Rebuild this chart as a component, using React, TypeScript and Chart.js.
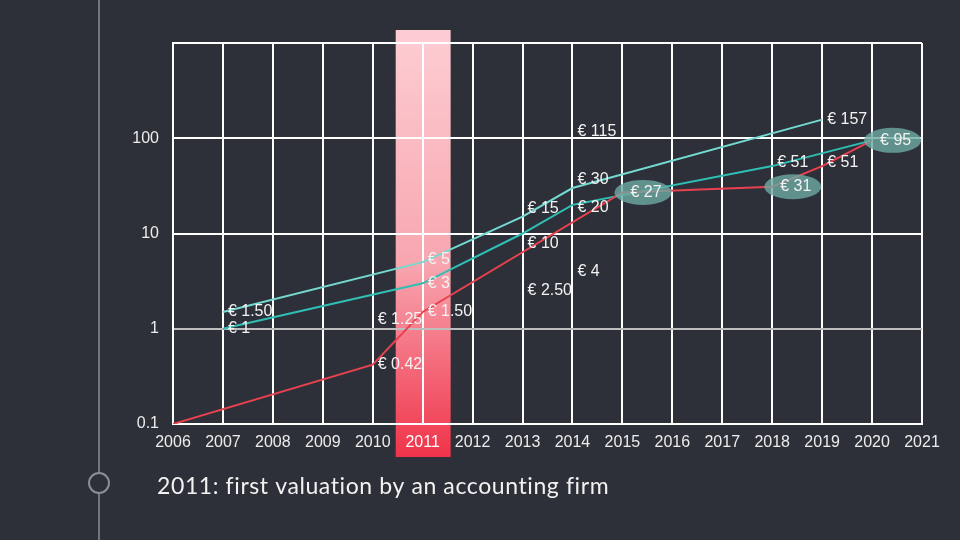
import React, { useEffect, useRef } from "react";
import { Chart, registerables } from "chart.js";

Chart.register(...registerables);

// ---- data ----
const redYears = [2006, 2010, 2011, 2015, 2018, 2019, 2020];
const redValues = [0.1, 0.42, 1.5, 27, 31, 51, 95];
const redLabels = ["", "€ 0.42", "€ 1.50", "€ 27", "€ 31", "€ 51", "€ 95"];
const redCircledYears = [2015, 2018, 2020];

const upperYears = [2007, 2011, 2013, 2014, 2019];
const upperValues = [1.5, 5, 15, 30, 157];
const upperLabels = ["€ 1.50", "€ 5", "€ 15", "€ 30", "€ 157"];

const middleYears = [2007, 2011, 2013, 2014, 2018, 2020];
const middleValues = [1, 3, 10, 20, 51, 95];
const middleLabels = ["€ 1", "€ 3", "€ 10", "€ 20", "€ 51", ""];

const noteYears = [2010, 2013, 2014, 2014];
const noteValues = [1.25, 2.5, 4, 118];
const noteLabels = ["€ 1.25", "€ 2.50", "€ 4", "€ 115"];

const yearMin = 2006;
const yearMax = 2021;
const yTickValues = [0.1, 1, 10, 100, 1000];
const highlightYear = 2011;
const caption = "2011: first valuation by an accounting firm";

// ---- style ----
const BG = "#2d3038";
const RED = "#e8414f";
const LIGHT_TEAL = "#74d9d0";
const TEAL = "#2fbfb5";
const TEXT = "#f2f2f2";
const GREY = "#8b8e94";
const LABEL_FONT = "16px 'Liberation Sans', Arial, sans-serif";
// vertical nudges for a few labels (dataset key : point index)
const labelNudge: Record<string, number> = {
  "upper:1": -3,
  "upper:2": -8,
  "upper:3": -8,
  "middle:2": 10,
  "middle:3": 3,
  "middle:4": -4,
  "red:5": -4,
};

const toPoints = (xs: number[], ys: number[]) => xs.map((x, i) => ({ x, y: ys[i] }));

const decorPlugin = {
  id: "decor",
  beforeDraw(chart: any) {
    const { ctx, width, height, chartArea, scales } = chart;
    ctx.save();
    ctx.fillStyle = BG;
    ctx.fillRect(0, 0, width, height);
    // timeline rule
    ctx.strokeStyle = GREY;
    ctx.lineWidth = 1.5;
    ctx.beginPath();
    ctx.moveTo(99, 0);
    ctx.lineTo(99, height);
    ctx.stroke();
    // highlight band
    const x0 = scales.x.getPixelForValue(highlightYear - 0.54);
    const x1 = scales.x.getPixelForValue(highlightYear + 0.56);
    const top = chartArea.top - 13;
    const bottom = chartArea.bottom + 33;
    const g = ctx.createLinearGradient(0, top, 0, bottom);
    g.addColorStop(0, "#fdcdd3");
    g.addColorStop(0.55, "#f8a6b0");
    g.addColorStop(1, "#f0334a");
    ctx.fillStyle = g;
    ctx.fillRect(x0, top, x1 - x0, bottom - top);
    ctx.restore();
  },
  afterDraw(chart: any) {
    const { ctx } = chart;
    ctx.save();
    // timeline node
    ctx.beginPath();
    ctx.arc(99, 483, 10, 0, Math.PI * 2);
    ctx.fillStyle = BG;
    ctx.fill();
    ctx.strokeStyle = GREY;
    ctx.lineWidth = 2;
    ctx.stroke();
    // caption
    ctx.fillStyle = TEXT;
    ctx.font = "23px Lato, 'Noto Sans', sans-serif";
    try {
      (ctx as any).letterSpacing = "0.6px";
    } catch (e) {}
    ctx.textAlign = "left";
    ctx.textBaseline = "alphabetic";
    ctx.fillText(caption, 157, 494);
    ctx.restore();
  },
};

const labelPlugin = {
  id: "pointLabels",
  afterDatasetsDraw(chart: any) {
    const { ctx } = chart;
    ctx.save();
    ctx.font = LABEL_FONT;
    ctx.textBaseline = "middle";
    ctx.textAlign = "left";
    chart.data.datasets.forEach((ds: any, di: number) => {
      const meta = chart.getDatasetMeta(di);
      const labels: string[] = ds.pointLabels || [];
      meta.data.forEach((el: any, i: number) => {
        const text = labels[i];
        if (!text) return;
        const raw = ds.data[i];
        const circled = (ds.circledYears || []).includes(raw.x);
        const dy = labelNudge[`${ds.key}:${i}`] || 0;
        const tx = el.x + (circled ? 8 : 5);
        const ty = el.y + dy;
        if (circled) {
          const w = ctx.measureText(text).width;
          ctx.beginPath();
          ctx.ellipse(tx + w / 2 - 3, ty, 28.5, 12.5, 0, 0, Math.PI * 2);
          ctx.fillStyle = "rgba(110,170,162,0.8)";
          ctx.fill();
        }
        ctx.fillStyle = TEXT;
        ctx.fillText(text, tx, ty);
      });
    });
    ctx.restore();
  },
};

export default function App() {
  const ref = useRef<HTMLCanvasElement | null>(null);

  useEffect(() => {
    document.body.style.margin = "0";
    document.body.style.background = BG;
    const canvas = ref.current;
    if (!canvas) return;
    const chart = new Chart(canvas, {
      type: "line",
      data: {
        datasets: [
          {
            key: "red",
            label: "red",
            data: toPoints(redYears, redValues),
            pointLabels: redLabels,
            circledYears: redCircledYears,
            borderColor: RED,
            borderWidth: 2,
            pointRadius: 0,
            tension: 0,
          } as any,
          {
            key: "middle",
            label: "middle",
            data: toPoints(middleYears, middleValues),
            pointLabels: middleLabels,
            borderColor: TEAL,
            borderWidth: 2,
            pointRadius: 0,
            tension: 0,
          } as any,
          {
            key: "upper",
            label: "upper",
            data: toPoints(upperYears, upperValues),
            pointLabels: upperLabels,
            borderColor: LIGHT_TEAL,
            borderWidth: 2,
            pointRadius: 0,
            tension: 0,
          } as any,
          {
            key: "note",
            label: "note",
            data: toPoints(noteYears, noteValues),
            pointLabels: noteLabels,
            showLine: false,
            borderColor: "transparent",
            pointRadius: 0,
          } as any,
        ],
      },
      options: {
        responsive: false,
        animation: false,
        events: [],
        layout: { padding: { left: 113, top: 43, right: 38, bottom: 76 } },
        plugins: {
          legend: { display: false },
          tooltip: { enabled: false },
          title: { display: false },
        },
        scales: {
          x: {
            type: "linear",
            min: yearMin,
            max: yearMax,
            afterBuildTicks: (scale: any) => {
              const t = [];
              for (let y = yearMin; y <= yearMax; y++) t.push({ value: y });
              scale.ticks = t;
            },
            afterFit: (scale: any) => {
              scale.height = 40;
              scale.paddingLeft = 0;
              scale.paddingRight = 0;
            },
            ticks: {
              autoSkip: false,
              maxRotation: 0,
              padding: 9,
              color: (c: any) => (c.tick && c.tick.value === highlightYear ? "#ffffff" : "#ececec"),
              font: { family: "'Liberation Sans', Arial, sans-serif", size: 16 },
              callback: (v: any) => String(v),
            },
            grid: { color: "#ffffff", lineWidth: 2, drawTicks: false },
            border: { display: true, color: "#ffffff", width: 2 },
          },
          y: {
            type: "logarithmic",
            min: 0.1,
            max: 1000,
            afterBuildTicks: (scale: any) => {
              scale.ticks = yTickValues.map((v) => ({ value: v }));
            },
            afterFit: (scale: any) => {
              scale.width = 60;
              scale.paddingTop = 0;
              scale.paddingBottom = 0;
            },
            ticks: {
              autoSkip: false,
              padding: 14,
              color: "#ececec",
              font: { family: "'Liberation Sans', Arial, sans-serif", size: 16 },
              callback: (v: any) => (v === 1000 ? "" : String(v)),
            },
            grid: {
              color: (c: any) => (c.tick && c.tick.value === 1 ? "#bdbdbd" : "#ffffff"),
              lineWidth: 2,
              drawTicks: false,
            },
            border: { display: true, color: "#ffffff", width: 2 },
          },
        },
      } as any,
      plugins: [decorPlugin, labelPlugin],
    });
    return () => chart.destroy();
  }, []);

  return (
    <div style={{ position: "fixed", left: 0, top: 0, width: 960, height: 540, background: BG }}>
      <canvas ref={ref} width={960} height={540} style={{ display: "block", width: 960, height: 540 }} />
    </div>
  );
}
